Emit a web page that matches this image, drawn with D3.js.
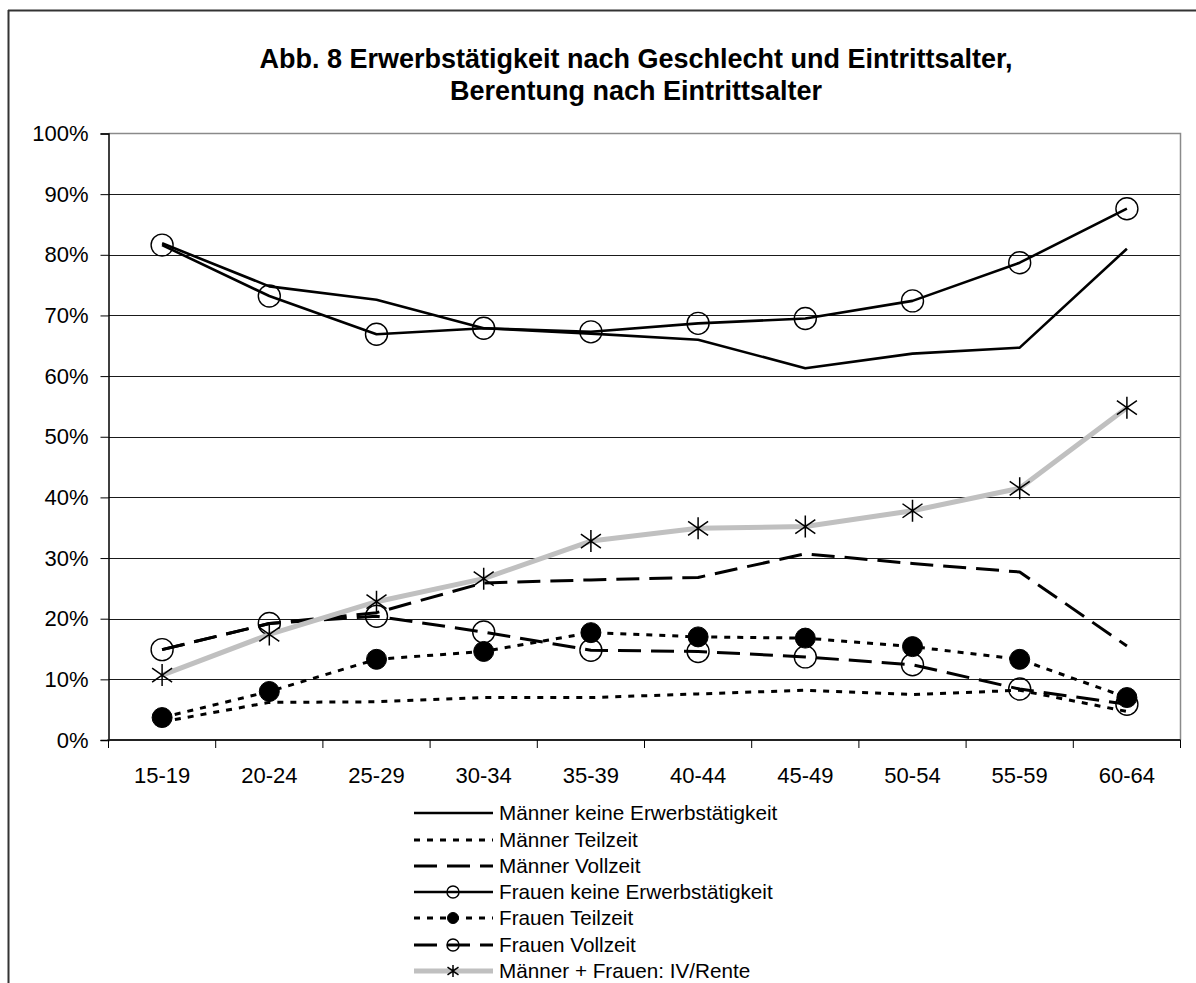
<!DOCTYPE html>
<html>
<head>
<meta charset="utf-8">
<script src="https://cdn.jsdelivr.net/npm/d3@7"></script>
<style>
  html, body { margin: 0; padding: 0; background: #fff; }
  svg { display: block; font-family: "Liberation Sans", Arial, sans-serif; }
</style>
</head>
<body>
<svg id="chart" width="1196" height="983"></svg>
<script>
// Altersgruppen beim Eintritt
const categories = ["15-19", "20-24", "25-29", "30-34", "35-39", "40-44", "45-49", "50-54", "55-59", "60-64"];

// Anteile in Prozent je Altersgruppe
const maennerKeine    = [81.9, 74.8, 72.6, 67.9, 67.0, 66.0, 61.3, 63.7, 64.7, 81.0];
const maennerTeilzeit = [3.0, 6.2, 6.3, 7.0, 7.0, 7.6, 8.2, 7.5, 8.2, 4.7];
const maennerVollzeit = [14.9, 19.2, 21.0, 25.9, 26.4, 26.8, 30.7, 29.1, 27.7, 15.5];
const frauenKeine     = [81.6, 73.2, 66.9, 67.9, 67.3, 68.7, 69.5, 72.4, 78.7, 87.6];
const frauenTeilzeit  = [3.7, 8.0, 13.3, 14.6, 17.7, 17.0, 16.8, 15.4, 13.3, 7.0];
const frauenVollzeit  = [14.9, 19.2, 20.4, 17.8, 14.8, 14.6, 13.7, 12.4, 8.4, 5.9];
const ivRente         = [10.7, 17.4, 22.8, 26.6, 32.8, 34.9, 35.2, 37.8, 41.5, 54.8];

const yTicks = [0, 10, 20, 30, 40, 50, 60, 70, 80, 90, 100];

const titleLines = [
  "Abb. 8 Erwerbstätigkeit nach Geschlecht und Eintrittsalter,",
  "Berentung nach Eintrittsalter"
];

const series = [
  { name: "Männer keine Erwerbstätigkeit", values: maennerKeine,    color: "#000", width: 2.6, dash: null,   marker: null },
  { name: "Männer Teilzeit",               values: maennerTeilzeit, color: "#000", width: 3,   dash: "6,7",  marker: null },
  { name: "Männer Vollzeit",               values: maennerVollzeit, color: "#000", width: 3,   dash: "23,10", marker: null },
  { name: "Frauen keine Erwerbstätigkeit", values: frauenKeine,     color: "#000", width: 2.6, dash: null,   marker: "open" },
  { name: "Frauen Teilzeit",               values: frauenTeilzeit,  color: "#000", width: 3,   dash: "6,7",  marker: "filled" },
  { name: "Frauen Vollzeit",               values: frauenVollzeit,  color: "#000", width: 3,   dash: "23,10", marker: "open" },
  { name: "Männer + Frauen: IV/Rente",     values: ivRente,         color: "#c0c0c0", width: 5, dash: null,  marker: "star" }
];

const svg = d3.select("#chart");

const plot = { left: 108.5, right: 1180.5, top: 133.5, bottom: 740 };

const x = d3.scaleBand().domain(categories).range([plot.left, plot.right]).padding(0);
const cx = c => x(c) + x.bandwidth() / 2;
const y = d3.scaleLinear().domain([0, 100]).range([plot.bottom, plot.top]);

// Rahmen (links und oben)
svg.append("line").attr("x1", 8.5).attr("y1", 10).attr("x2", 8.5).attr("y2", 983)
  .attr("stroke", "#333").attr("stroke-width", 2);
svg.append("line").attr("x1", 8).attr("y1", 10.5).attr("x2", 1196).attr("y2", 10.5)
  .attr("stroke", "#333").attr("stroke-width", 2);

// Titel
const title = svg.append("text")
  .attr("text-anchor", "middle")
  .attr("font-weight", "bold")
  .attr("font-size", 27)
  .attr("fill", "#000");
titleLines.forEach((t, i) => {
  title.append("tspan").attr("x", 636).attr("y", 68 + i * 32).text(t);
});

// Gitterlinien
svg.append("g")
  .selectAll("line")
  .data(yTicks.filter(d => d > 0 && d < 100))
  .join("line")
  .attr("x1", plot.left).attr("x2", plot.right)
  .attr("y1", d => Math.round(y(d)) + 0.5).attr("y2", d => Math.round(y(d)) + 0.5)
  .attr("stroke", "#1a1a1a").attr("stroke-width", 1);

// Plotflächenrahmen oben und rechts
svg.append("path")
  .attr("d", `M${plot.left},${plot.top}H${plot.right}V${plot.bottom}`)
  .attr("fill", "none").attr("stroke", "#8a8a8a").attr("stroke-width", 1.5);

// Y-Achse
const yAxis = d3.axisLeft(y)
  .tickValues(yTicks)
  .tickFormat(d => d + "%")
  .tickSize(8)
  .tickPadding(12);
const gy = svg.append("g").attr("transform", `translate(${plot.left},0)`).call(yAxis);
gy.select(".domain").attr("stroke", "#000").attr("stroke-width", 1.5);
gy.selectAll(".tick line").attr("stroke", "#000").attr("stroke-width", 1);
gy.selectAll(".tick text").attr("font-size", 22).attr("font-family", "Liberation Sans, Arial, sans-serif").attr("fill", "#000");

// X-Achse mit Teilstrichen zwischen den Kategorien
const gx = svg.append("g").attr("transform", `translate(0,${plot.bottom})`);
gx.append("line").attr("x1", plot.left - 1).attr("x2", plot.right)
  .attr("y1", 0).attr("y2", 0).attr("stroke", "#222").attr("stroke-width", 2);
const boundaries = categories.map(c => x(c)).concat([x(categories[categories.length - 1]) + x.bandwidth()]);
gx.selectAll("line.tk").data(boundaries).join("line").attr("class", "tk")
  .attr("x1", d => d).attr("x2", d => d).attr("y1", 0).attr("y2", 8)
  .attr("stroke", "#000").attr("stroke-width", 1);
gx.selectAll("text").data(categories).join("text")
  .attr("x", d => cx(d)).attr("y", 43)
  .attr("text-anchor", "middle")
  .attr("font-size", 22).attr("fill", "#000")
  .text(d => d);

// Markerformen
function drawMarker(g, type, px, py, scale) {
  if (type === "open") {
    g.append("circle").attr("cx", px).attr("cy", py).attr("r", 11 * scale)
      .attr("fill", "none").attr("stroke", "#000").attr("stroke-width", 1.4);
  } else if (type === "filled") {
    g.append("circle").attr("cx", px).attr("cy", py).attr("r", 10 * scale)
      .attr("fill", "#000").attr("stroke", "#000").attr("stroke-width", 1);
  } else if (type === "star") {
    const h = 11 * scale, w = 10 * scale, d = 7 * scale;
    g.append("path")
      .attr("d", `M${px},${py - h}V${py + h}M${px - w},${py - d}L${px + w},${py + d}M${px - w},${py + d}L${px + w},${py - d}`)
      .attr("fill", "none").attr("stroke", "#000").attr("stroke-width", 1.5);
  }
}

// Linien und Marker
const line = d3.line().x((d, i) => cx(categories[i])).y(d => y(d));
series.forEach(s => {
  const g = svg.append("g");
  g.append("path")
    .attr("d", line(s.values))
    .attr("fill", "none")
    .attr("stroke", s.color)
    .attr("stroke-width", s.width)
    .attr("stroke-dasharray", s.dash)
    .attr("stroke-linejoin", "round");
  if (s.marker) {
    s.values.forEach((v, i) => drawMarker(g, s.marker, cx(categories[i]), y(v), 1));
  }
});

// Legende
const legendRows = [813, 840, 866, 892, 918, 945, 971];
const legend = svg.append("g");
series.forEach((s, i) => {
  const ly = legendRows[i];
  legend.append("line")
    .attr("x1", 414).attr("x2", 493).attr("y1", ly).attr("y2", ly)
    .attr("stroke", s.color).attr("stroke-width", s.width)
    .attr("stroke-dasharray", s.dash);
  if (s.marker) drawMarker(legend, s.marker, 453, ly, 0.55);
  legend.append("text")
    .attr("x", 499).attr("y", ly + 7)
    .attr("font-size", 20.7).attr("fill", "#000")
    .text(s.name);
});
</script>
</body>
</html>
